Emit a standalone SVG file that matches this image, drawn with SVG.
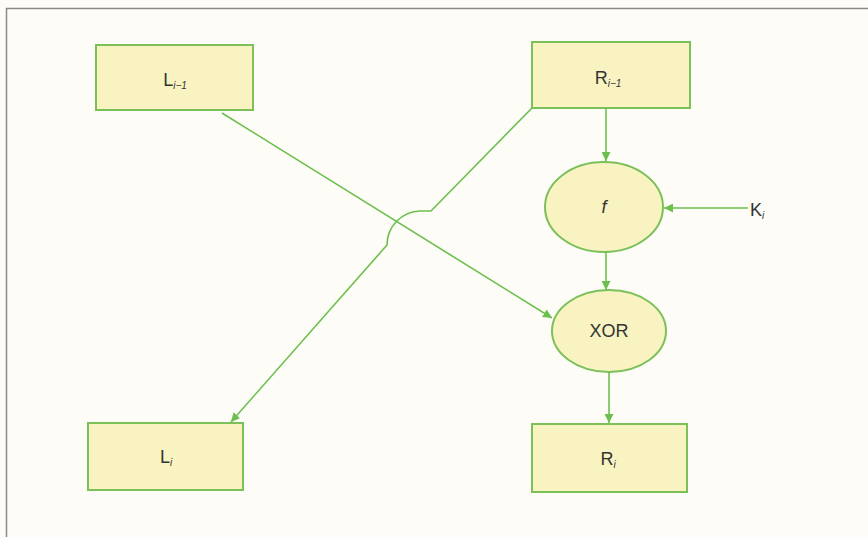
<svg xmlns="http://www.w3.org/2000/svg" width="868" height="537" viewBox="0 0 868 537">
<defs>
<marker id="arr" viewBox="0 0 10 10" refX="10" refY="5" markerWidth="9" markerHeight="9" markerUnits="userSpaceOnUse" orient="auto">
<path d="M0,0 L10,5 L0,10 z" fill="#6cbf4e"/>
</marker>
<style>
.box{fill:#f8f3c1;stroke:#7cc05a;stroke-width:2}
.lbl{font-family:"Liberation Sans",Arial,sans-serif;font-size:18px;fill:#333;text-anchor:middle}
.sub{font-size:10px;font-style:italic}
.con{fill:none;stroke:#6cbf4e;stroke-width:1.6}
</style>
</defs>
<rect width="868" height="537" fill="#fdfcf6"/>
<path d="M6.5,537 V8.5 H868" fill="none" stroke="#8a8a8a" stroke-width="1.5"/>
<g id="L_prev">
<rect class="box" x="96" y="45" width="157" height="65"/>
<text class="lbl" x="175" y="86">L<tspan class="sub" font-size="8px" dy="3">i−1</tspan></text>
</g>
<g id="R_prev">
<rect class="box" x="532" y="42" width="158" height="66"/>
<text class="lbl" x="608" y="84">R<tspan class="sub" dy="3">i−1</tspan></text>
</g>
<g id="f">
<ellipse class="box" cx="604" cy="207" rx="59" ry="45"/>
<text class="lbl" x="604" y="213" font-style="italic">f</text>
</g>
<g id="K">
<text class="lbl" x="757" y="216">K<tspan class="sub" dy="3">i</tspan></text>
</g>
<g id="XOR">
<ellipse class="box" cx="609" cy="331" rx="57" ry="41"/>
<text class="lbl" x="609" y="337" font-size="19px">XOR</text>
</g>
<g id="R_i">
<rect class="box" x="532" y="424" width="155" height="68"/>
<text class="lbl" x="608" y="465">R<tspan class="sub" dy="3">i</tspan></text>
</g>
<g id="L_i">
<rect class="box" x="88" y="423" width="155" height="67"/>
<text class="lbl" x="166" y="463">L<tspan class="sub" dy="3">i</tspan></text>
</g>
<g id="connectors">
<line class="con" x1="606" y1="108" x2="606" y2="161" marker-end="url(#arr)"/>
<line class="con" x1="606" y1="252" x2="606" y2="290" marker-end="url(#arr)"/>
<line class="con" x1="609" y1="372" x2="609" y2="423" marker-end="url(#arr)"/>
<line class="con" x1="748" y1="208" x2="664" y2="208" marker-end="url(#arr)"/>
<line class="con" x1="222" y1="113" x2="552" y2="318" marker-end="url(#arr)"/>
<path class="con" d="M532,108 L431,211 H420 A34,34 0 0 0 387,245 L231,422" marker-end="url(#arr)"/>
</g>
</svg>
